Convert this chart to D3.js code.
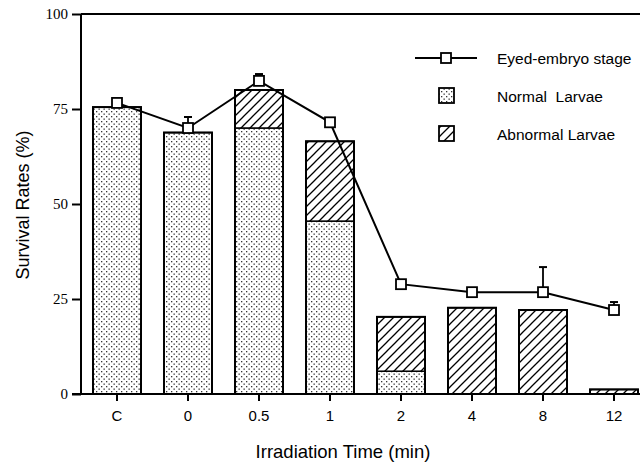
<!DOCTYPE html>
<html><head><meta charset="utf-8">
<script src="https://cdn.jsdelivr.net/npm/d3@7"></script>
<style>body{margin:0;background:#fff}svg{display:block}</style>
</head><body>
<svg id="c" width="640" height="462"></svg>
<script>
const categories = ["C","0","0.5","1","2","4","8","12"];
const normalLarvae = [75.5, 68.8, 70, 45.5, 6, 0, 0, 0];
const abnormalLarvae = [0, 0, 10, 21, 14.3, 22.7, 22.1, 1.2];
const eyedEmbryo = [76.6, 70, 82.4, 71.5, 28.9, 26.8, 26.8, 22.1];
const eyedError = [0.5, 2.9, 1.8, 0.5, 0.3, 0.6, 6.6, 2.1];
const yTicks = [0, 25, 50, 75, 100];
const legendLabels = ["Eyed-embryo stage", "Normal  Larvae", "Abnormal Larvae"];

const svg = d3.select("#c");
const y = d3.scaleLinear().domain([0,100]).range([394,14]);
const x = d3.scaleBand().domain(categories).range([81.5,649.5]).paddingInner(0.324).paddingOuter(0.162);

const defs = svg.append("defs");
const dots = defs.append("pattern").attr("id","dots").attr("patternUnits","userSpaceOnUse")
  .attr("width",5).attr("height",5);
dots.append("rect").attr("width",5).attr("height",5).attr("fill","#fff");
dots.append("rect").attr("x",1).attr("y",1).attr("width",1.3).attr("height",1.3).attr("fill","#333");
dots.append("rect").attr("x",3.5).attr("y",3.5).attr("width",1.3).attr("height",1.3).attr("fill","#333");
const hatch = defs.append("pattern").attr("id","hatch").attr("patternUnits","userSpaceOnUse")
  .attr("width",9).attr("height",9);
hatch.append("rect").attr("width",9).attr("height",9).attr("fill","#fff");
hatch.append("path").attr("d","M0,9 L9,0 M-3,3 L3,-3 M6,12 L12,6").attr("stroke","#000").attr("stroke-width",1.3);

const data = categories.map((c,i)=>({c, n:normalLarvae[i], a:abnormalLarvae[i], e:eyedEmbryo[i], err:eyedError[i]}));

// bars
const g = svg.append("g");
data.forEach(d=>{
  const bx = x(d.c), bw = x.bandwidth();
  if (d.n>0) g.append("rect").attr("x",bx).attr("y",y(d.n)).attr("width",bw).attr("height",y(0)-y(d.n))
    .attr("fill","url(#dots)").attr("stroke","#000").attr("stroke-width",1.5);
  if (d.a>0) g.append("rect").attr("x",bx).attr("y",y(d.n+d.a)).attr("width",bw).attr("height",y(d.n)-y(d.n+d.a))
    .attr("fill","url(#hatch)").attr("stroke","#000").attr("stroke-width",1.5);
  g.append("rect").attr("x",bx).attr("y",y(d.n+d.a)).attr("width",bw).attr("height",y(0)-y(d.n+d.a))
    .attr("fill","none").attr("stroke","#000").attr("stroke-width",2);
});

// axes
svg.append("line").attr("x1",72).attr("x2",640).attr("y1",y(0)).attr("y2",y(0)).attr("stroke","#000").attr("stroke-width",2);
svg.append("line").attr("x1",81).attr("x2",640).attr("y1",y(100)).attr("y2",y(100)).attr("stroke","#000").attr("stroke-width",2);
svg.append("line").attr("x1",81).attr("x2",81).attr("y1",y(0)).attr("y2",y(100)).attr("stroke","#000").attr("stroke-width",2);

const yAxis = svg.append("g").attr("transform","translate(81,0)")
  .call(d3.axisLeft(y).tickValues(yTicks).tickSize(9).tickPadding(4));
yAxis.select(".domain").remove();
yAxis.selectAll(".tick line").attr("stroke","#000").attr("stroke-width",2);
yAxis.selectAll(".tick text").attr("font-family","'Liberation Serif', 'DejaVu Serif', serif").attr("font-size",15).attr("fill","#000");

const xAxis = svg.append("g").attr("transform",`translate(0,${y(0)})`)
  .call(d3.axisBottom(x).tickSize(7).tickPadding(9));
xAxis.select(".domain").remove();
xAxis.selectAll(".tick line").attr("stroke","#000").attr("stroke-width",2);
xAxis.selectAll(".tick text").attr("font-family","'Liberation Sans', Arial, sans-serif").attr("font-size",15).attr("fill","#000");

// line
const line = d3.line().x(d=>x(d.c)+x.bandwidth()/2).y(d=>y(d.e));
svg.append("path").datum(data).attr("d",line).attr("fill","none").attr("stroke","#000").attr("stroke-width",2);
data.forEach(d=>{
  const cx = x(d.c)+x.bandwidth()/2;
  svg.append("line").attr("x1",cx).attr("x2",cx).attr("y1",y(d.e)).attr("y2",y(d.e+d.err)).attr("stroke","#000").attr("stroke-width",1.8);
  svg.append("line").attr("x1",cx-4).attr("x2",cx+4).attr("y1",y(d.e+d.err)).attr("y2",y(d.e+d.err)).attr("stroke","#000").attr("stroke-width",2);
  svg.append("rect").attr("x",cx-5).attr("y",y(d.e)-5).attr("width",10).attr("height",10)
    .attr("fill","#fff").attr("stroke","#000").attr("stroke-width",1.8);
});

// axis titles
svg.append("text").attr("x",343).attr("y",458).attr("text-anchor","middle")
  .attr("font-family","'Liberation Sans', Arial, sans-serif").attr("font-size",18.5).text("Irradiation Time (min)");
svg.append("text").attr("transform","translate(29,205) rotate(-90)").attr("text-anchor","middle")
  .attr("font-family","'Liberation Sans', Arial, sans-serif").attr("font-size",18).text("Survival Rates (%)");

// legend
const lg = svg.append("g").attr("font-family","'Liberation Sans', Arial, sans-serif").attr("font-size",15.5);
lg.append("line").attr("x1",415).attr("x2",477).attr("y1",58).attr("y2",58).attr("stroke","#000").attr("stroke-width",1.8);
lg.append("rect").attr("x",441).attr("y",53).attr("width",10).attr("height",10).attr("fill","#fff").attr("stroke","#000").attr("stroke-width",1.8);
lg.append("rect").attr("x",439).attr("y",88).attr("width",15).attr("height",15).attr("fill","url(#dots)").attr("stroke","#000").attr("stroke-width",1.8);
lg.append("rect").attr("x",439).attr("y",126).attr("width",15).attr("height",15).attr("fill","url(#hatch)").attr("stroke","#000").attr("stroke-width",1.8);
[64,102,140].forEach((yy,i)=>{
  lg.append("text").attr("x",497).attr("y",yy).style("white-space","pre").text(legendLabels[i]);
});
</script>
</body></html>
